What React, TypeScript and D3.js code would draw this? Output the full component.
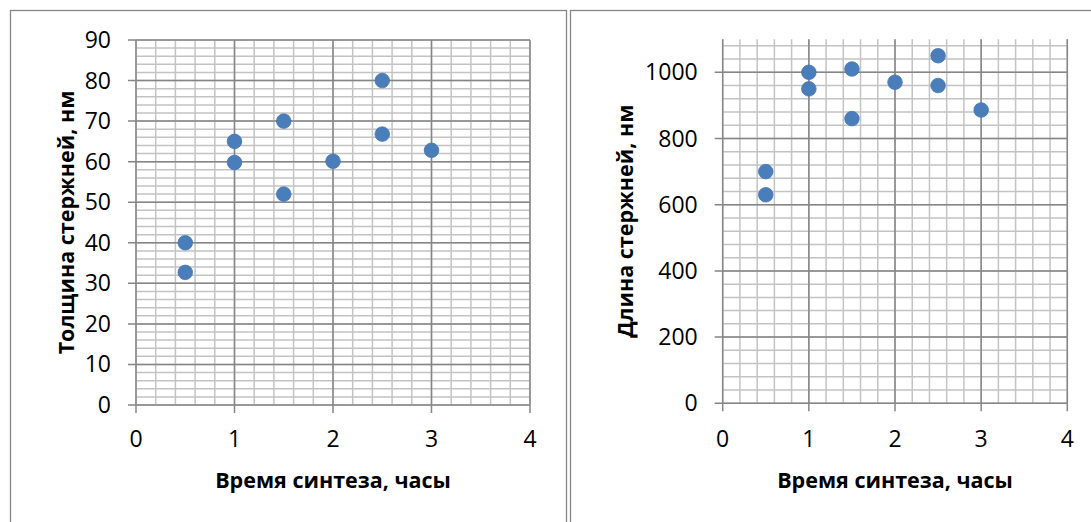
import React from "react";
import * as d3 from "d3";

// Left chart data: rod thickness vs synthesis time
const thickTime = [0.5, 0.5, 1, 1, 1.5, 1.5, 2, 2.5, 2.5, 3];
const thickValue = [40, 32.7, 65, 59.8, 70, 52, 60.1, 80, 66.8, 62.8];

// Right chart data: rod length vs synthesis time
const lenTime = [0.5, 0.5, 1, 1, 1.5, 1.5, 2, 2.5, 2.5, 3];
const lenValue = [700, 630, 1000, 950, 1010, 860, 970, 1050, 960, 886];

const xTicks = [0, 1, 2, 3, 4];
const leftYTicks = [0, 10, 20, 30, 40, 50, 60, 70, 80, 90];
const rightYTicks = [0, 200, 400, 600, 800, 1000];

const xTitle = "Время синтеза, часы";
const leftYTitle = "Толщина стержней, нм";
const rightYTitle = "Длина стержней, нм";

const FONT = "'Open Sans', 'DejaVu Sans', sans-serif";
const MARKER = "#4a7ebb";
const MINOR = "#c3c3c3";
const MAJOR = "#868686";

type PanelProps = {
  x0: number; x1: number; y0: number; y1: number;
  yMax: number; yMinor: number; yTicks: number[];
  xs: number[]; ys: number[]; yTitle: string; yTitleX: number;
};

function Panel(p: PanelProps) {
  const x = d3.scaleLinear().domain([0, 4]).range([p.x0, p.x1]);
  const y = d3.scaleLinear().domain([0, p.yMax]).range([p.y0, p.y1]);
  const xMinor = d3.range(0, 4 + 1e-9, 0.2);
  const yMinor = d3.range(0, p.yMax + 1e-9, p.yMinor);
  const top = y(p.yMax);
  return (
    <g>
      {yMinor.map((v, i) => (
        <line key={"ym" + i} x1={p.x0} x2={p.x1} y1={y(v)} y2={y(v)} stroke={MINOR} strokeWidth={1.5} />
      ))}
      {xMinor.map((v, i) => (
        <line key={"xm" + i} x1={x(v)} x2={x(v)} y1={p.y0} y2={top} stroke={MINOR} strokeWidth={1.5} />
      ))}
      {p.yTicks.map((v) => (
        <line key={"yM" + v} x1={p.x0 - 8} x2={p.x1} y1={y(v)} y2={y(v)} stroke={MAJOR} strokeWidth={1.5} />
      ))}
      {xTicks.map((v) => (
        <line key={"xM" + v} x1={x(v)} x2={x(v)} y1={p.y0 + 8} y2={top} stroke={MAJOR} strokeWidth={1.5} />
      ))}
      {p.yTicks.map((v) => (
        <text key={"yl" + v} x={p.x0 - 25} y={y(v) + 8} textAnchor="end" fontSize={23} fontFamily={FONT} fill="#000">
          {v}
        </text>
      ))}
      {xTicks.map((v) => (
        <text key={"xl" + v} x={x(v)} y={447} textAnchor="middle" fontSize={23} fontFamily={FONT} fill="#000">
          {v}
        </text>
      ))}
      {p.xs.map((t, i) => (
        <circle key={"pt" + i} cx={x(t)} cy={y(p.ys[i])} r={7.3} fill={MARKER} stroke="#4677b3" strokeWidth={0.8} />
      ))}
      <text x={(p.x0 + p.x1) / 2} y={488} textAnchor="middle" fontSize={21.5} fontWeight="bold" fontFamily={FONT} fill="#000">
        {xTitle}
      </text>
      <text
        transform={`translate(${p.yTitleX},${(p.y0 + top) / 2}) rotate(-90)`}
        textAnchor="middle"
        fontSize={21.5}
        fontWeight="bold"
        fontFamily={FONT}
        fill="#000"
      >
        {p.yTitle}
      </text>
    </g>
  );
}

export default function App() {
  return (
    <svg
      width={1091}
      height={522}
      style={{ position: "absolute", left: 0, top: 0, background: "#fff" }}
    >
      <rect x={0} y={0} width={1091} height={522} fill="#fff" />
      <rect x={10.5} y={10.5} width={556} height={530} fill="none" stroke={MAJOR} strokeWidth={1.3} />
      <rect x={570.5} y={10.5} width={540} height={530} fill="none" stroke={MAJOR} strokeWidth={1.3} />
      <Panel
        x0={136} x1={530} y0={405} y1={40}
        yMax={90} yMinor={2} yTicks={leftYTicks}
        xs={thickTime} ys={thickValue} yTitle={leftYTitle} yTitleX={74}
      />
      <Panel
        x0={722.7} x1={1067.3} y0={403.3} y1={39.2}
        yMax={1100} yMinor={40} yTicks={rightYTicks}
        xs={lenTime} ys={lenValue} yTitle={rightYTitle} yTitleX={633}
      />
    </svg>
  );
}
